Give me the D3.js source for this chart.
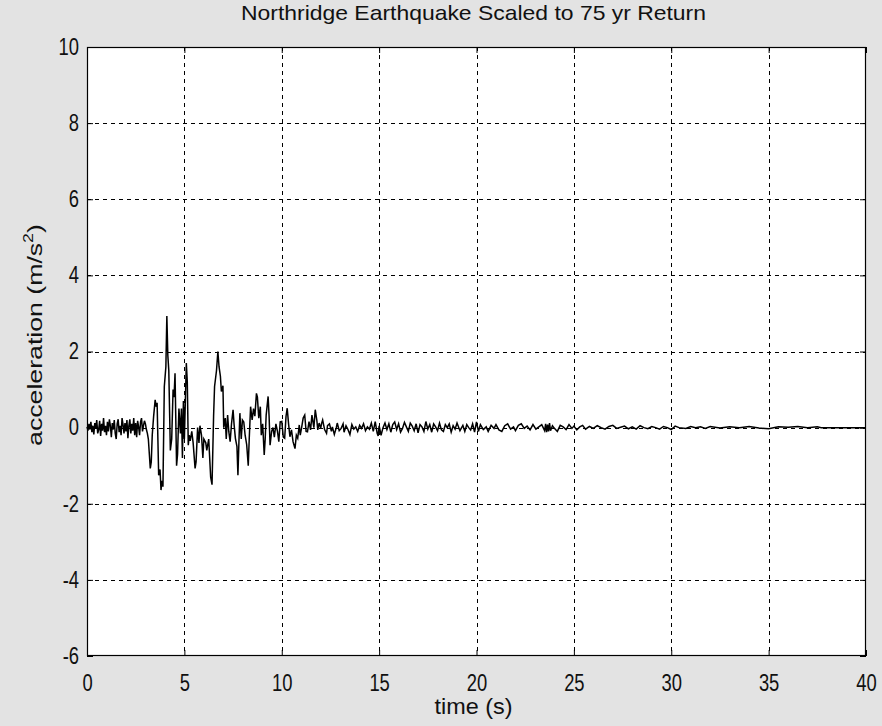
<!DOCTYPE html>
<html>
<head>
<meta charset="utf-8">
<script src="https://cdnjs.cloudflare.com/ajax/libs/d3/7.8.5/d3.min.js"></script>
<style>
	body { margin: 0; background: #e3e3e3; }
	text { font-family: "Liberation Sans", Arial, sans-serif; fill: #111; }
</style>
</head>
<body>
<div class="chart"></div>
<script>
	// tick values
	var xTicks = [0, 5, 10, 15, 20, 25, 30, 35, 40];
	var yTicks = [-6, -4, -2, 0, 2, 4, 6, 8, 10];

	var preEvent = [
		[0.0, 0.02], [0.05, -0.08], [0.1, 0.1], [0.15, -0.05], [0.2, 0.15], [0.25, -0.12],
		[0.3, 0.05], [0.35, -0.18], [0.4, 0.12], [0.45, -0.02], [0.5, 0.2], [0.55, -0.15],
		[0.6, -0.05], [0.65, 0.18], [0.7, -0.22], [0.75, 0.1], [0.8, -0.08], [0.85, 0.25],
		[0.9, -0.12], [0.95, 0.05], [1.0, -0.2], [1.05, 0.15], [1.1, -0.1], [1.15, 0.22],
		[1.2, 0.05], [1.25, -0.25], [1.3, 0.12], [1.35, -0.05], [1.4, 0.2], [1.45, -0.15],
		[1.5, -0.3], [1.55, 0.1], [1.6, 0.22], [1.65, -0.12], [1.7, 0.05], [1.75, -0.2],
		[1.8, 0.25], [1.85, 0.08], [1.9, -0.15], [1.95, 0.12], [2.0, -0.1], [2.05, 0.2],
		[2.1, -0.28], [2.15, 0.05], [2.2, 0.22], [2.25, -0.15], [2.3, 0.1], [2.35, -0.08],
		[2.4, 0.25], [2.45, -0.2], [2.5, 0.12], [2.55, -0.25], [2.6, 0.18], [2.65, 0.02],
		[2.7, -0.2], [2.75, 0.15], [2.8, 0.25], [2.85, -0.1], [2.9, 0.05], [2.95, 0.18],
		[3.0, 0.1], [3.05, -0.05], [3.1, -0.15], [3.15, -0.3]
	];

	var strongMotion = [
		[3.25, -1.07], [3.3, -0.9], [3.35, -0.2], [3.42, 0.29], [3.5, 0.73], [3.55, 0.55],
		[3.6, 0.65], [3.68, -1.25], [3.75, -1.1], [3.8, -1.64], [3.85, -1.4], [3.9, -1.55],
		[3.97, 1.08], [4.05, 1.6], [4.1, 2.93], [4.15, 1.9], [4.2, 1.5], [4.28, -0.6],
		[4.35, -0.3], [4.42, 1.0], [4.47, 0.8], [4.52, 1.43], [4.6, -1.0], [4.65, -0.7],
		[4.72, 0.5], [4.8, -0.15], [4.85, 0.5], [4.9, -0.8], [4.95, 0.7], [5.0, -0.3],
		[5.1, 1.7], [5.15, 1.2], [5.2, -0.46], [5.25, -0.2], [5.3, -0.35], [5.38, -0.1],
		[5.45, -0.4], [5.55, -1.07], [5.6, -0.9], [5.68, 0.0], [5.75, -0.4], [5.8, 0.05],
		[5.88, -0.2], [5.95, -0.8], [6.0, -0.3], [6.1, -0.4], [6.15, -0.6], [6.25, -0.3],
		[6.35, -1.3], [6.42, -1.5], [6.5, 0.3], [6.55, 1.08], [6.65, 1.5], [6.72, 2.0],
		[6.78, 1.6], [6.85, 1.35], [6.9, 0.95], [6.98, 1.1], [7.02, 0.0], [7.1, 0.25],
		[7.15, -0.3], [7.22, 0.33], [7.28, -0.1], [7.35, -0.37], [7.42, 0.1], [7.5, 0.47],
		[7.55, 0.1], [7.62, -0.28], [7.7, -0.5], [7.75, -1.25], [7.8, -0.4], [7.85, 0.38],
		[7.92, -0.3], [7.98, 0.2], [8.05, 0.15], [8.12, -0.2], [8.2, -0.45], [8.28, -1.0],
		[8.33, -0.3], [8.4, 0.55], [8.48, 0.2], [8.55, 0.5], [8.62, 0.3], [8.7, 0.9],
		[8.75, 0.8], [8.82, 0.25], [8.9, 0.55], [8.95, -0.2], [9.02, 0.1], [9.1, -0.72],
		[9.15, -0.3], [9.2, 0.33], [9.3, 0.82], [9.35, 0.3], [9.4, -0.46], [9.48, -0.1],
		[9.55, 0.0], [9.62, -0.25], [9.7, 0.1], [9.78, -0.1], [9.85, -0.37], [9.92, 0.15],
		[10.0, 0.16], [10.08, -0.25], [10.15, -0.28], [10.22, 0.3], [10.28, 0.51], [10.35, 0.1],
		[10.42, -0.24], [10.5, -0.06], [10.58, -0.37], [10.68, -0.55], [10.75, -0.2], [10.82, -0.28],
		[10.9, 0.07], [10.95, -0.2], [11.02, 0.0], [11.1, 0.25], [11.18, 0.33], [11.25, -0.1],
		[11.32, -0.11], [11.4, 0.16], [11.48, -0.06], [11.55, 0.33], [11.65, 0.0], [11.72, 0.47],
		[11.8, 0.2], [11.85, -0.06], [11.92, 0.12], [12.0, -0.02]
	];

	var coda = [
		[12.05, 0.12], [12.1, 0.2], [12.2, -0.05], [12.3, -0.15], [12.35, 0.05], [12.45, 0.1],
		[12.55, -0.1], [12.6, 0.02], [12.7, -0.18], [12.8, 0.0], [12.85, 0.12], [12.95, -0.08],
		[13.05, -0.02], [13.15, 0.1], [13.2, -0.12], [13.3, 0.05], [13.4, -0.05], [13.5, -0.18],
		[13.6, 0.08], [13.7, -0.04], [13.8, 0.02], [13.9, -0.1], [14.0, 0.06], [14.1, -0.02],
		[14.2, 0.1], [14.3, -0.08], [14.4, 0.02], [14.5, -0.04], [14.6, 0.12], [14.7, -0.1],
		[14.8, 0.16], [14.9, -0.15], [14.95, -0.22], [15.0, 0.05], [15.1, -0.2], [15.2, 0.0],
		[15.3, 0.12], [15.4, -0.05], [15.5, 0.1], [15.6, -0.12], [15.7, 0.08], [15.8, 0.15],
		[15.9, -0.05], [16.0, 0.1], [16.1, -0.12], [16.2, -0.02], [16.3, 0.14], [16.4, 0.02],
		[16.5, -0.1], [16.6, 0.12], [16.7, 0.04], [16.8, -0.08], [16.9, 0.1], [17.0, -0.14],
		[17.1, 0.08], [17.2, 0.02], [17.3, -0.1], [17.4, 0.16], [17.5, -0.04], [17.6, 0.08],
		[17.7, -0.12], [17.8, 0.1], [17.9, 0.02], [18.0, -0.08], [18.1, 0.12], [18.2, -0.06],
		[18.3, -0.1], [18.4, 0.08], [18.5, 0.0], [18.6, 0.1], [18.7, -0.12], [18.8, 0.05],
		[18.9, -0.04], [19.0, 0.12], [19.15, -0.08], [19.3, 0.06], [19.4, -0.1], [19.5, 0.08],
		[19.6, 0.0], [19.7, -0.06], [19.8, 0.1], [19.9, -0.12], [20.0, 0.15], [20.1, -0.1],
		[20.2, 0.08], [20.35, -0.05], [20.5, 0.02], [20.6, -0.1], [20.75, 0.06], [20.9, -0.02],
		[21.0, 0.08], [21.15, -0.06], [21.3, -0.1], [21.45, 0.05], [21.6, 0.1], [21.75, -0.04],
		[21.9, 0.02], [22.0, -0.08], [22.15, 0.06], [22.3, 0.1], [22.45, -0.02], [22.6, 0.04],
		[22.75, -0.06], [22.9, 0.08], [23.05, -0.04], [23.2, 0.02], [23.35, 0.08], [23.5, -0.08],
		[23.55, 0.1], [23.6, -0.12], [23.65, 0.08], [23.7, -0.1], [23.75, 0.12], [23.8, -0.08],
		[23.9, 0.05], [24.0, -0.02], [24.15, -0.1], [24.3, 0.06], [24.45, 0.02], [24.6, -0.05],
		[24.75, 0.08], [24.9, -0.02], [25.0, 0.04], [25.15, -0.06], [25.3, 0.02], [25.45, 0.06],
		[25.6, -0.04], [25.8, 0.03], [26.0, -0.02], [26.2, 0.05], [26.4, 0.0], [26.6, -0.04],
		[26.8, 0.03], [27.0, 0.06], [27.2, -0.02], [27.4, 0.01], [27.6, 0.04], [27.8, -0.03],
		[28.0, 0.02], [28.2, -0.04], [28.4, 0.05], [28.6, 0.0], [28.8, -0.03], [29.0, 0.03],
		[29.2, 0.0], [29.4, -0.04], [29.6, 0.03], [29.8, 0.0], [30.0, -0.05], [30.2, 0.04],
		[30.4, 0.0], [30.75, -0.02], [31.0, 0.03], [31.25, 0.0], [31.5, 0.02], [31.75, -0.02],
		[32.0, 0.03], [32.5, -0.01], [33.0, 0.02], [33.5, 0.0], [34.0, 0.03], [34.5, -0.01],
		[35.0, -0.03], [35.5, 0.02], [36.0, 0.01], [36.5, 0.03], [37.0, 0.0], [37.5, 0.02],
		[37.7, 0.0], [40.0, 0.0]
	];

	var record = preEvent.concat(strongMotion, coda);

	var svg_w = 882;
	var svg_h = 726;
	var plotLeft = 87, plotRight = 866, plotTop = 47, plotBottom = 656;

	var svg = d3.select("div.chart").append("svg")
		.attr("width", svg_w)
		.attr("height", svg_h);

	var x = d3.scaleLinear().domain([0, 40]).range([plotLeft, plotRight]);
	var y = d3.scaleLinear().domain([-6, 10]).range([plotBottom, plotTop]);

	// plain hyphen minus like the original, not d3's unicode minus
	var plainFormat = function(d) { return String(d); };

	// white axes area
	svg.append("rect")
		.attr("x", plotLeft)
		.attr("y", plotTop)
		.attr("width", plotRight - plotLeft)
		.attr("height", plotBottom - plotTop)
		.attr("fill", "#fff");

	// dashed grid
	svg.append("g")
		.selectAll("line")
		.data(xTicks.slice(1, -1))
		.enter()
		.append("line")
		.attr("x1", function(d) { return Math.round(x(d)) + 0.5; })
		.attr("x2", function(d) { return Math.round(x(d)) + 0.5; })
		.attr("y1", plotTop)
		.attr("y2", plotBottom)
		.attr("stroke", "#000")
		.attr("stroke-dasharray", "4,4");

	svg.append("g")
		.selectAll("line")
		.data(yTicks.slice(1, -1))
		.enter()
		.append("line")
		.attr("x1", plotLeft)
		.attr("x2", plotRight)
		.attr("y1", function(d) { return Math.round(y(d)) + 0.5; })
		.attr("y2", function(d) { return Math.round(y(d)) + 0.5; })
		.attr("stroke", "#000")
		.attr("stroke-dasharray", "4,4");

	// the record
	var line = d3.line()
		.x(function(d) { return x(d[0]); })
		.y(function(d) { return y(d[1]); });

	svg.append("path")
		.datum(record)
		.attr("d", line)
		.attr("fill", "none")
		.attr("stroke", "#000")
		.attr("stroke-width", 1.5);

	// axes, ticks pointing inward like matlab
	svg.append("g")
		.attr("transform", "translate(0," + plotBottom + ")")
		.call(d3.axisBottom(x).tickValues(xTicks).tickFormat(plainFormat).tickSizeInner(-6).tickSizeOuter(0).tickPadding(19))
		.call(function(g) {
			g.select(".domain").remove();
			g.selectAll("text").attr("font-size", "23px").attr("transform", "scale(0.8,1)");
		});

	svg.append("g")
		.attr("transform", "translate(" + plotLeft + ",0)")
		.call(d3.axisLeft(y).tickValues(yTicks).tickFormat(plainFormat).tickSizeInner(-6).tickSizeOuter(0).tickPadding(10))
		.call(function(g) {
			g.select(".domain").remove();
			g.selectAll("text").attr("font-size", "23px").attr("transform", "scale(0.8,1)");
		});

	svg.append("g")
		.attr("transform", "translate(0," + plotTop + ")")
		.call(d3.axisTop(x).tickValues(xTicks).tickSizeInner(-6).tickSizeOuter(0).tickFormat(""))
		.select(".domain").remove();

	svg.append("g")
		.attr("transform", "translate(" + plotRight + ",0)")
		.call(d3.axisRight(y).tickValues(yTicks).tickSizeInner(-6).tickSizeOuter(0).tickFormat(""))
		.select(".domain").remove();

	svg.append("rect")
		.attr("x", plotLeft + 0.5)
		.attr("y", plotTop + 0.5)
		.attr("width", plotRight - plotLeft - 1)
		.attr("height", plotBottom - plotTop - 1)
		.attr("fill", "none")
		.attr("stroke", "#000")
		.attr("stroke-width", 1.2);

	// title and labels
	svg.append("text")
		.attr("x", (plotLeft + plotRight) / 2 - 3)
		.attr("y", 20)
		.attr("text-anchor", "middle")
		.attr("font-size", "21px")
		.attr("textLength", 465)
		.attr("lengthAdjust", "spacingAndGlyphs")
		.text("Northridge Earthquake Scaled to 75 yr Return");

	svg.append("text")
		.attr("x", (plotLeft + plotRight) / 2 - 3)
		.attr("y", 714)
		.attr("text-anchor", "middle")
		.attr("font-size", "22px")
		.attr("textLength", 78)
		.attr("lengthAdjust", "spacingAndGlyphs")
		.text("time (s)");

	// y label is stretched along its length, as in the scan
	var ylab = svg.append("text")
		.attr("transform", "translate(42,335) rotate(-90) scale(1.27,1)")
		.attr("text-anchor", "middle")
		.attr("font-size", "21px");
	ylab.append("tspan").text("acceleration (m/s");
	ylab.append("tspan").attr("font-size", "14px").attr("dy", -9).text("2");
	ylab.append("tspan").attr("dy", 9).text(")");
</script>
</body>
</html>
